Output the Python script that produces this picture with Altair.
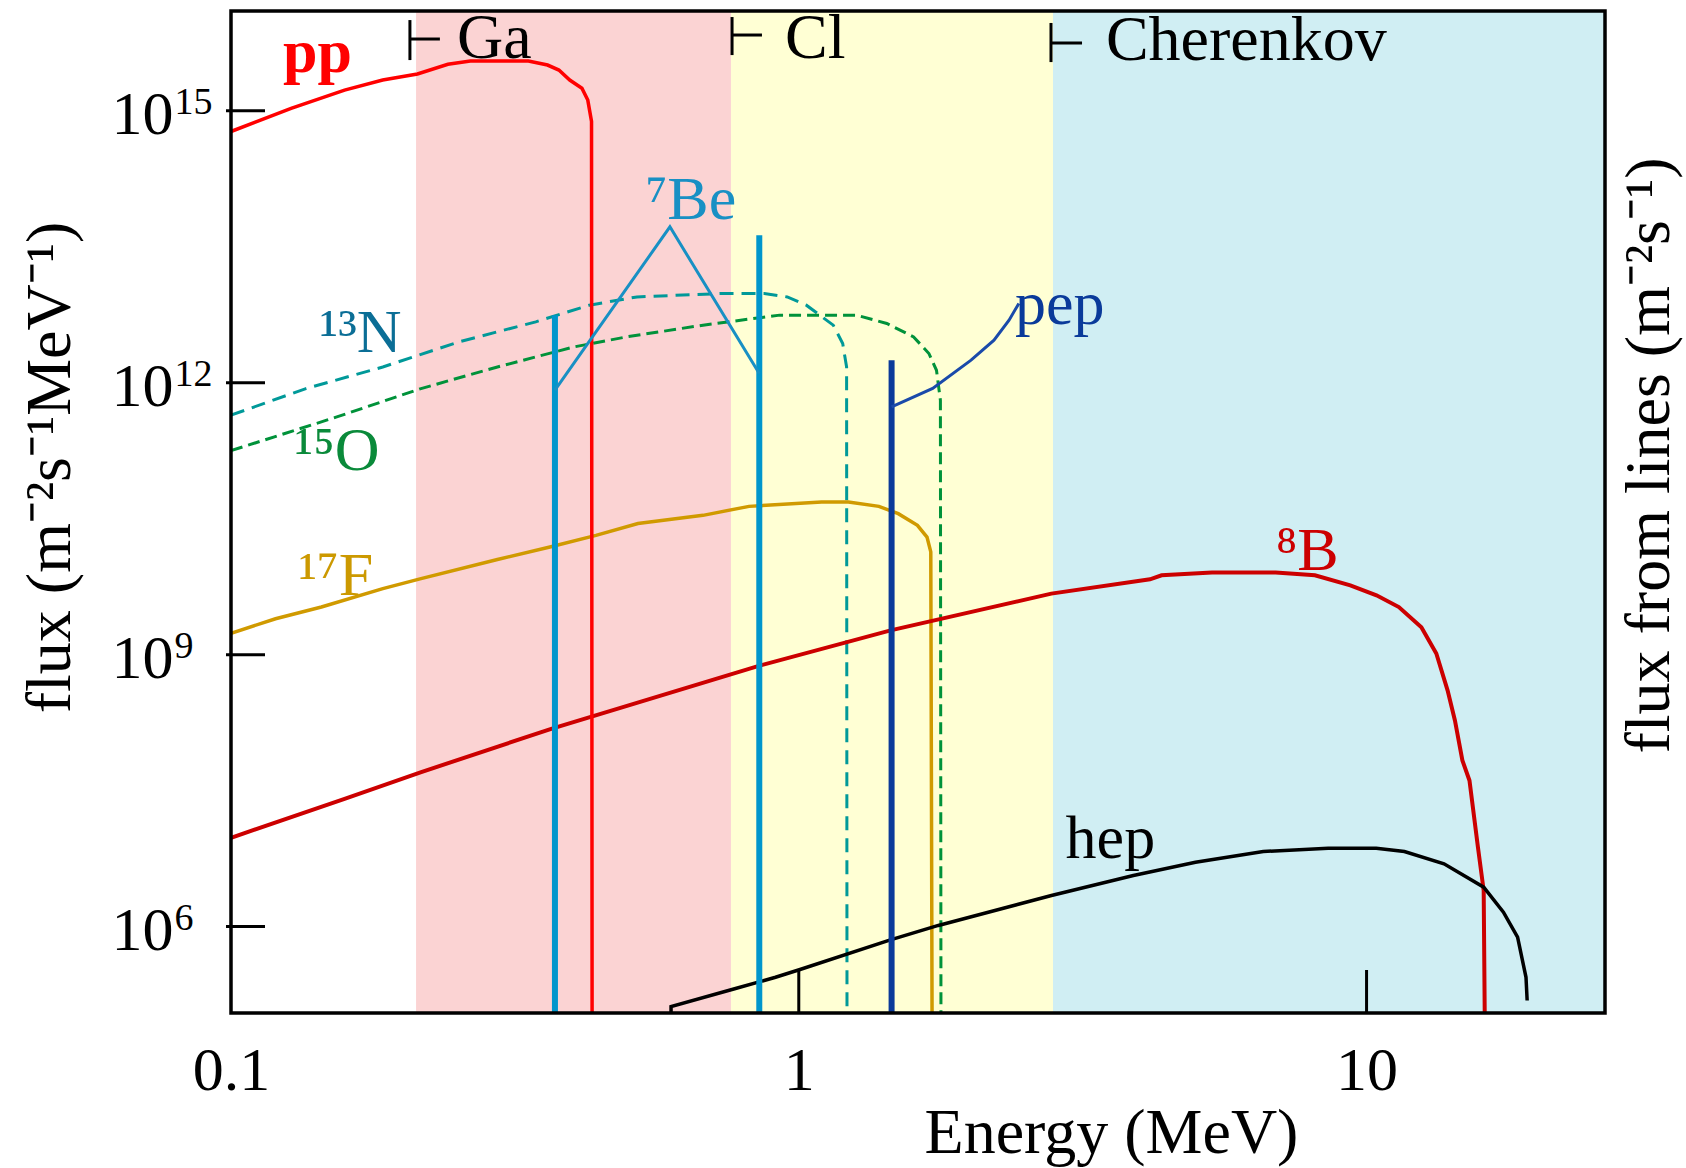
import altair as alt
import pandas as pd

# ---------------- axis ranges (MeV, flux) ----------------
XMIN, XMAX = 0.1, 26.3
YMIN, YMAX = 1.114e5, 1.259e16
FLOOR = 1e5  # spectra that end abruptly drop to below the plot bottom

X_TICKS = [1, 10]
X_LABEL_VALUES = [0.1, 1, 10]
Y_TICKS = [1e6, 1e9, 1e12, 1e15]
Y_TICK_BASE = "10"
Y_TICK_EXPONENTS = ["6", "9", "12", "15"]

# ---------------- continuous spectra ----------------
PP_E = [0.100, 0.1276, 0.1585, 0.185, 0.213, 0.241, 0.264, 0.334, 0.361, 0.378, 0.395, 0.415, 0.425, 0.4315, 0.4325]
PP_F = [5.9e14, 1.06e15, 1.69e15, 2.18e15, 2.54e15, 3.25e15, 3.53e15, 3.53e15, 3.19e15, 2.81e15, 2.18e15, 1.77e15, 1.31e15, 7.6e14, FLOOR]

B8_E = [0.100, 0.1585, 0.2163, 0.3664, 0.856, 1.451, 2.785, 4.155, 4.355, 5.343, 6.916, 8.110, 9.363, 10.41, 11.40,
        12.49, 13.27, 13.89, 14.31, 14.75, 15.18, 15.71, 16.08, 16.15]
B8_F = [9.55e6, 2.57e7, 5.06e7, 1.52e8, 7.60e8, 1.85e9, 4.71e9, 6.78e9, 7.50e9, 8.04e9, 8.04e9, 7.50e9, 5.81e9, 4.51e9,
        3.35e9, 2.01e9, 1.03e9, 4.04e8, 1.88e8, 6.81e7, 4.09e7, 7.52e6, 2.50e6, FLOOR]

HEP_E = [0.5957, 0.5957, 0.771, 0.910, 1.005, 1.450, 1.761, 2.786, 3.884, 4.997, 6.578, 8.560, 10.40, 11.66, 13.69,
         16.08, 17.42, 18.45, 19.09, 19.18]
HEP_F = [FLOOR, 1.31e5, 2.06e5, 2.76e5, 3.36e5, 7.14e5, 1.03e6, 2.20e6, 3.66e6, 5.13e6, 6.73e6, 7.33e6, 7.33e6, 6.73e6,
         4.93e6, 2.72e6, 1.44e6, 7.64e5, 2.76e5, 1.53e5]

F17_E = [0.100, 0.1198, 0.1443, 0.1851, 0.2161, 0.2946, 0.3645, 0.4393, 0.5209, 0.6781, 0.8172, 1.097, 1.223, 1.384,
         1.497, 1.618, 1.682, 1.708, 1.717]
F17_F = [1.72e9, 2.49e9, 3.35e9, 5.35e9, 6.89e9, 1.12e10, 1.54e10, 2.07e10, 2.79e10, 3.44e10, 4.32e10, 4.83e10, 4.83e10,
         4.32e10, 3.59e10, 2.67e10, 1.98e10, 1.36e10, FLOOR]

N13_E = [0.100, 0.1355, 0.1851, 0.2521, 0.3442, 0.4277, 0.5188, 0.7322, 0.8694, 0.9543, 1.031, 1.150, 1.195, 1.214, 1.216]
N13_F = [4.38e11, 8.61e11, 1.49e12, 2.82e12, 4.69e12, 7.16e12, 8.83e12, 9.64e12, 9.64e12, 8.83e12, 7.16e12, 4.31e12,
         2.70e12, 1.49e12, FLOOR]

O15_E = [0.100, 0.1536, 0.2161, 0.2946, 0.4018, 0.4971, 0.6781, 0.9252, 1.262, 1.429, 1.593, 1.695, 1.748, 1.776, 1.780]
O15_F = [1.78e11, 4.19e11, 8.61e11, 1.49e12, 2.48e12, 3.20e12, 4.31e12, 5.56e12, 5.56e12, 4.50e12, 3.20e12, 2.10e12,
         1.37e12, 6.40e11, FLOOR]

# ---------------- line sources (right axis: flux from lines) ----------------
BE7_LINE_E = [0.372, 0.852]
BE7_LINE_F = [5.56e12, 4.24e13]
PEP_LINE_E = [1.457]
PEP_LINE_F = [1.77e12]

BE7_LEADER_E = [0.372, 0.593, 0.852]
BE7_LEADER_F = [8.26e11, 5.24e13, 1.26e12]
PEP_LEADER_E = [1.457, 1.721, 2.011, 2.207, 2.346, 2.441]
PEP_LEADER_F = [5.4e11, 8.63e11, 1.77e12, 2.94e12, 4.89e12, 7.48e12]

# ---------------- detector thresholds ----------------
REGION_NAMES = ["Ga", "Cl", "Cherenkov"]
REGION_START = [0.2118, 0.7596, 2.804]
REGION_END = [0.7596, 2.804, 26.3]

BRACKET_E = [0.2066, 0.7629, 2.781]
BRACKET_E2 = [0.2333, 0.8613, 3.154]
BRACKET_TOP = [1.00e16, 1.08e16, 9.29e15]
BRACKET_BOT = [3.62e15, 4.11e15, 3.44e15]
BRACKET_MID = [6.18e15, 6.84e15, 5.58e15]

HEAD_TEXT = ["Ga", "Cl", "Cherenkov"]
HEAD_E = [0.250, 0.9456, 3.475]
HEAD_F = [3.81e15, 3.85e15, 3.62e15]

# ---------------- curve labels ----------------
LABEL_TEXT = ["¹³N", "¹⁵O", "¹⁷F", "⁸B", "hep", "⁷Be", "pep"]
LABEL_E = [0.1432, 0.1294, 0.1315, 6.916, 2.951, 0.5375, 2.403]
LABEL_F = [2.17e12, 1.08e11, 4.51e9, 8.51e9, 5.78e6, 6.37e13, 4.42e12]
PP_LABEL_E = [0.1235]
PP_LABEL_F = [2.67e15]

# ---------------- styles ----------------
FONT = "Liberation Serif"
W, H = 1374, 1002
REGION_COLORS = ["#FBD3D3", "#FFFFD4", "#D0EEF3"]
LABEL_COLORS = ["#0B6E96", "#0A8A3A", "#CC9900", "#CC0000", "#000000", "#1890C4", "#0A3A9A"]

xs = alt.Scale(type="log", domain=[XMIN, XMAX], nice=False)
ys = alt.Scale(type="log", domain=[YMIN, YMAX], nice=False)


def X(field):
    return alt.X(f"{field}:Q", scale=xs, axis=None)


def Y(field):
    return alt.Y(f"{field}:Q", scale=ys, axis=None)


def curve(E, F, color, width, dash=None):
    df = pd.DataFrame({"E": E, "F": F, "i": list(range(len(E)))})
    kw = dict(color=color, strokeWidth=width, clip=True)
    if dash:
        kw["strokeDash"] = dash
    return alt.Chart(df).mark_line(**kw).encode(x=X("E"), y=Y("F"), order="i:Q")


exp_expr = ""
for v, t in zip(Y_TICKS[:-1], Y_TICK_EXPONENTS[:-1]):
    exp_expr += f"datum.value < {v * 3:g} ? '{t}' : "
exp_expr += f"'{Y_TICK_EXPONENTS[-1]}'"

x_axis = alt.Axis(
    orient="bottom", values=X_LABEL_VALUES, format="~g", title="Energy (MeV)", grid=False, ticks=False,
    tickSize=0, domain=False, labelFont=FONT, labelFontSize=62, labelColor="black", labelPadding=76,
    labelBaseline="alphabetic", labelFlush=False, labelOverlap=False,
    titleFont=FONT, titleFontSize=64, titleFontWeight="normal", titleColor="black",
    titleX=880, titleY=139, titleAlign="center", titleBaseline="alphabetic",
)
y_axis = alt.Axis(
    orient="left", values=Y_TICKS, labelExpr=f"'{Y_TICK_BASE}'", title="flux (m⁻²s⁻¹MeV⁻¹)", grid=False,
    ticks=False, tickSize=0, domain=False, labelFont=FONT, labelFontSize=62, labelColor="black",
    labelAlign="left", labelPadding=120, labelBaseline="alphabetic", labelOffset=23, labelFlush=False,
    labelOverlap=False, titleFont=FONT, titleFontSize=64, titleFontWeight="normal", titleColor="black",
    titleAngle=270, titleX=-162, titleY=456, titleAlign="center", titleBaseline="alphabetic",
)
y_exp_axis = alt.Axis(
    orient="left", values=Y_TICKS, labelExpr=exp_expr, title="", grid=False,
    ticks=False, tickSize=0, domain=False, labelFont=FONT, labelFontSize=38, labelColor="black",
    labelAlign="left", labelPadding=57, labelBaseline="alphabetic", labelOffset=3, labelFlush=False,
    labelOverlap=False,
)
right_axis = alt.Axis(
    orient="right", title="flux from lines (m⁻²s⁻¹)", labels=False, ticks=False, tickSize=0, domain=False,
    grid=False, titleFont=FONT, titleFontSize=64, titleFontWeight="normal", titleColor="black",
    titleAngle=270, titleX=63, titleY=444, titleAlign="center", titleBaseline="alphabetic",
)

reg_df = pd.DataFrame({"name": REGION_NAMES, "start": REGION_START, "end": REGION_END,
                       "lo": [YMIN] * 3, "hi": [YMAX] * 3})
regions = alt.Chart(reg_df).mark_rect().encode(
    x=alt.X("start:Q", scale=xs, axis=x_axis), x2="end:Q",
    y=alt.Y("lo:Q", scale=ys, axis=y_axis), y2="hi:Q",
    color=alt.Color("name:N", scale=alt.Scale(domain=REGION_NAMES, range=REGION_COLORS), legend=None),
)

layers = [regions]
layers.append(curve(N13_E, N13_F, "#009999", 3, [14, 8]))
layers.append(curve(O15_E, O15_F, "#00923A", 3, [12, 6]))
layers.append(curve(F17_E, F17_F, "#D09A00", 3.5))
layers.append(curve(B8_E, B8_F, "#CC0000", 4))
layers.append(curve(HEP_E, HEP_F, "#000000", 3.5))
layers.append(curve(PP_E, PP_F, "#FF0000", 3.5))

be_df = pd.DataFrame({"E": BE7_LINE_E, "F": BE7_LINE_F, "b": [FLOOR] * len(BE7_LINE_E)})
layers.append(alt.Chart(be_df).mark_rule(color="#0096CC", strokeWidth=6, clip=True).encode(
    x=X("E"), y=Y("F"), y2="b:Q"))
pep_df = pd.DataFrame({"E": PEP_LINE_E, "F": PEP_LINE_F, "b": [FLOOR] * len(PEP_LINE_E)})
layers.append(alt.Chart(pep_df).mark_rule(color="#0A3A9A", strokeWidth=6, clip=True).encode(
    x=X("E"), y=Y("F"), y2="b:Q"))
layers.append(curve(BE7_LEADER_E, BE7_LEADER_F, "#1890C4", 3))
layers.append(curve(PEP_LEADER_E, PEP_LEADER_F, "#1A4AAA", 3))

# inward ticks (this layer also carries the exponent labels of the left axis)
layers.append(alt.Chart(pd.DataFrame({"v": Y_TICKS})).mark_rule(color="black", strokeWidth=3).encode(
    y=alt.Y("v:Q", scale=ys, axis=y_exp_axis), x=alt.value(-5), x2=alt.value(34)))
layers.append(alt.Chart(pd.DataFrame({"v": X_TICKS})).mark_rule(color="black", strokeWidth=3).encode(
    x=X("v"), y=alt.value(H), y2=alt.value(H - 43)))

# threshold brackets
br_df = pd.DataFrame({"e": BRACKET_E, "e2": BRACKET_E2, "top": BRACKET_TOP, "bot": BRACKET_BOT, "mid": BRACKET_MID})
layers.append(alt.Chart(br_df).mark_rule(color="black", strokeWidth=3).encode(
    x=X("e"), y=Y("top"), y2="bot:Q"))
layers.append(alt.Chart(br_df).mark_rule(color="black", strokeWidth=3).encode(
    x=X("e"), x2="e2:Q", y=Y("mid")))
head_df = pd.DataFrame({"t": HEAD_TEXT, "E": HEAD_E, "F": HEAD_F})
layers.append(alt.Chart(head_df).mark_text(align="left", baseline="alphabetic", font=FONT, fontSize=64,
                                           color="black").encode(x=X("E"), y=Y("F"), text="t:N"))

# curve labels
lab_df = pd.DataFrame({"t": LABEL_TEXT, "E": LABEL_E, "F": LABEL_F, "c": LABEL_COLORS})
layers.append(alt.Chart(lab_df).mark_text(align="left", baseline="alphabetic", font=FONT, fontSize=62).encode(
    x=X("E"), y=Y("F"), text="t:N", color=alt.Color("c:N", scale=None)))
pp_df = pd.DataFrame({"t": ["pp"], "E": PP_LABEL_E, "F": PP_LABEL_F})
layers.append(alt.Chart(pp_df).mark_text(align="left", baseline="alphabetic", font=FONT, fontSize=62,
                                         fontWeight="bold", color="#FF0000").encode(
    x=X("E"), y=Y("F"), text="t:N"))

# frame (with right axis title)
frame_df = pd.DataFrame({"x0": [XMIN], "x1": [XMAX], "y0": [YMIN], "y1": [YMAX]})
layers.append(alt.Chart(frame_df).mark_rect(fill="white", fillOpacity=0, stroke="black", strokeWidth=3.5).encode(
    x=alt.X("x0:Q", scale=xs, axis=None), x2="x1:Q",
    y=alt.Y("y0:Q", scale=ys, axis=right_axis), y2="y1:Q"))

chart = alt.layer(*layers).properties(
    width=W, height=H,
    autosize=alt.AutoSizeParams(type="none"),
    padding={"left": 231, "top": 11, "right": 81, "bottom": 155},
    background="white",
).resolve_axis(x="independent", y="independent").configure_view(stroke="transparent")

chart.save("out.html", embed_options={"renderer": "svg", "actions": False})
